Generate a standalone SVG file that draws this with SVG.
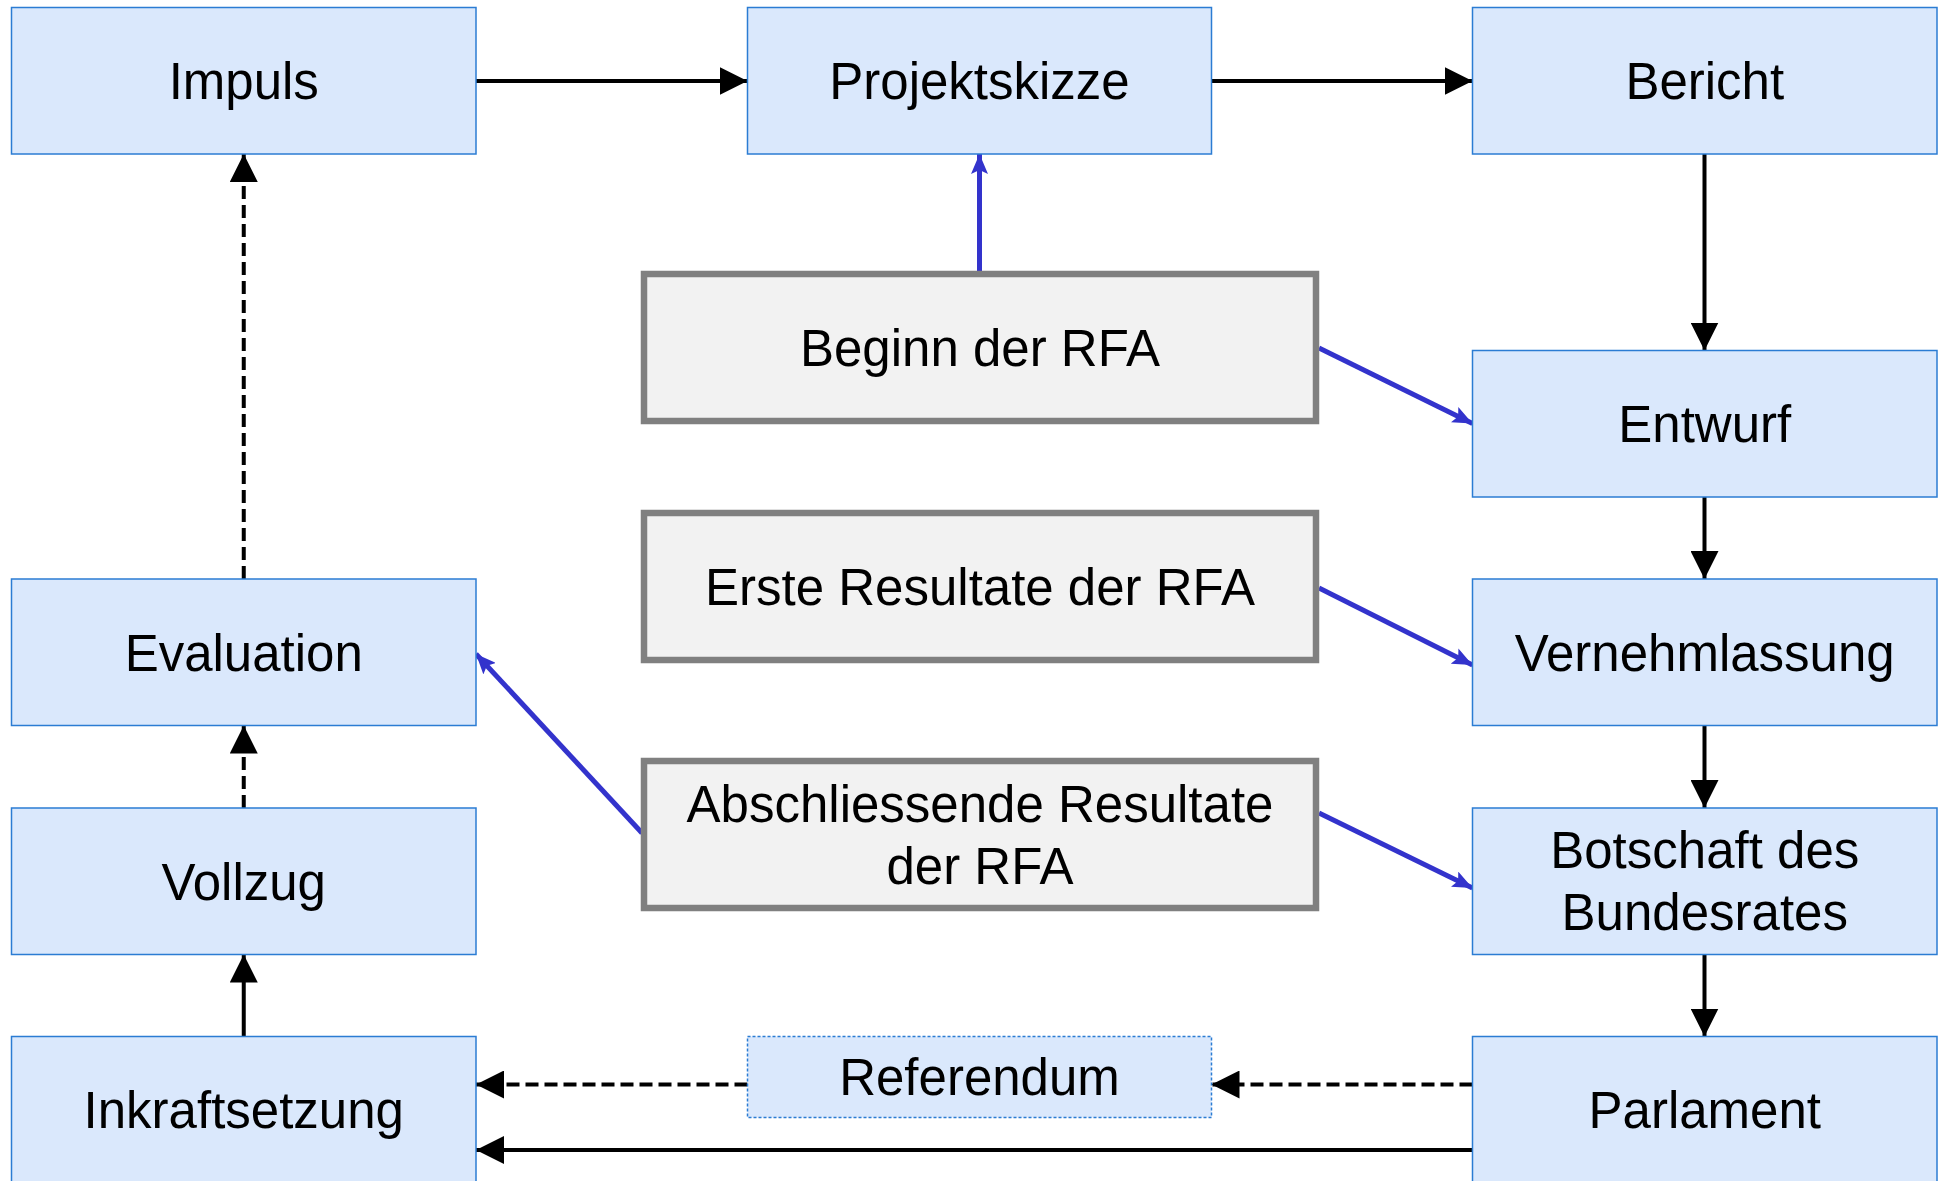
<svg xmlns="http://www.w3.org/2000/svg" width="1944" height="1181" viewBox="0 0 1944 1181">
<style>
.b{fill:#dae8fc;stroke:#2b7cd3;stroke-width:1.5}
.r{fill:#dae8fc;stroke:#2b7cd3;stroke-width:1.5;stroke-dasharray:3 2}
.g{fill:#f2f2f2;stroke:#808080;stroke-width:6.5}
.t{font-family:"Liberation Sans",Arial,sans-serif;font-size:51px;fill:#000;text-anchor:middle}
.k{stroke:#000;stroke-width:4;fill:none}
.d{stroke:#000;stroke-width:4;fill:none;stroke-dasharray:13 6}
.u{stroke:#3333cc;stroke-width:5;fill:none}
</style>
<defs>
<marker id="ak" markerUnits="userSpaceOnUse" markerWidth="28" markerHeight="28" refX="28" refY="14" orient="auto" viewBox="0 0 28 28"><path d="M0,0 L28,14 L0,28 z" fill="#000"/></marker>
<marker id="au" markerUnits="userSpaceOnUse" markerWidth="20" markerHeight="17" refX="20" refY="8.5" orient="auto" viewBox="0 0 20 17"><path d="M0,0 L20,8.5 L0,17 L4,8.5 z" fill="#3333cc"/></marker>
</defs>
<g id="connectors">
<line class="k" x1="476" y1="81" x2="747.5" y2="81" marker-end="url(#ak)"/>
<line class="k" x1="1211.5" y1="81" x2="1472.5" y2="81" marker-end="url(#ak)"/>
<line class="k" x1="1704.5" y1="154" x2="1704.5" y2="350.5" marker-end="url(#ak)"/>
<line class="k" x1="1704.5" y1="497" x2="1704.5" y2="579" marker-end="url(#ak)"/>
<line class="k" x1="1704.5" y1="725.5" x2="1704.5" y2="808" marker-end="url(#ak)"/>
<line class="k" x1="1704.5" y1="954.5" x2="1704.5" y2="1036.5" marker-end="url(#ak)"/>
<line class="d" x1="1472.5" y1="1084.5" x2="1211.5" y2="1084.5" marker-end="url(#ak)"/>
<line class="d" x1="747.5" y1="1084.5" x2="476" y2="1084.5" marker-end="url(#ak)"/>
<line class="k" x1="1472.5" y1="1150" x2="476" y2="1150" marker-end="url(#ak)"/>
<line class="k" x1="243.75" y1="1036.5" x2="243.75" y2="954.5" marker-end="url(#ak)"/>
<line class="d" x1="243.75" y1="808" x2="243.75" y2="725.5" marker-end="url(#ak)"/>
<line class="d" x1="243.75" y1="579" x2="243.75" y2="154" marker-end="url(#ak)"/>
<line class="u" x1="979.5" y1="274" x2="979.5" y2="154" marker-end="url(#au)"/>
<line class="u" x1="1319" y1="348" x2="1472.5" y2="423.5" marker-end="url(#au)"/>
<line class="u" x1="1319" y1="588" x2="1472.5" y2="665" marker-end="url(#au)"/>
<line class="u" x1="1319" y1="813" x2="1472.5" y2="888" marker-end="url(#au)"/>
<line class="u" x1="642" y1="833" x2="476" y2="654" marker-end="url(#au)"/>
</g>
<g id="impuls"><rect class="b" x="11.5" y="7.5" width="464.5" height="146.5"/><text class="t" x="243.75" y="99">Impuls</text></g>
<g id="projektskizze"><rect class="b" x="747.5" y="7.5" width="464" height="146.5"/><text class="t" x="979.5" y="99">Projektskizze</text></g>
<g id="bericht"><rect class="b" x="1472.5" y="7.5" width="464.5" height="146.5"/><text class="t" x="1704.75" y="99">Bericht</text></g>
<g id="entwurf"><rect class="b" x="1472.5" y="350.5" width="464.5" height="146.5"/><text class="t" x="1704.75" y="442">Entwurf</text></g>
<g id="vernehmlassung"><rect class="b" x="1472.5" y="579" width="464.5" height="146.5"/><text class="t" x="1704.75" y="670.5">Vernehmlassung</text></g>
<g id="botschaft"><rect class="b" x="1472.5" y="808" width="464.5" height="146.5"/><text class="t" x="1704.75" y="868">Botschaft des</text><text class="t" x="1704.75" y="930">Bundesrates</text></g>
<g id="parlament"><rect class="b" x="1472.5" y="1036.5" width="464.5" height="146.5"/><text class="t" x="1704.75" y="1128">Parlament</text></g>
<g id="evaluation"><rect class="b" x="11.5" y="579" width="464.5" height="146.5"/><text class="t" x="243.75" y="670.5">Evaluation</text></g>
<g id="vollzug"><rect class="b" x="11.5" y="808" width="464.5" height="146.5"/><text class="t" x="243.75" y="899.5">Vollzug</text></g>
<g id="inkraftsetzung"><rect class="b" x="11.5" y="1036.5" width="464.5" height="146.5"/><text class="t" x="243.75" y="1128">Inkraftsetzung</text></g>
<g id="referendum"><rect class="r" x="747.5" y="1036.5" width="464" height="81"/><text class="t" x="979.5" y="1095">Referendum</text></g>
<g id="beginn"><rect class="g" x="644" y="274" width="672" height="147"/><text class="t" x="980" y="366">Beginn der RFA</text></g>
<g id="erste"><rect class="g" x="644" y="513" width="672" height="147"/><text class="t" x="980" y="605">Erste Resultate der RFA</text></g>
<g id="abschliessende"><rect class="g" x="644" y="761" width="672" height="147"/><text class="t" x="980" y="822">Abschliessende Resultate</text><text class="t" x="980" y="884">der RFA</text></g>
</svg>
